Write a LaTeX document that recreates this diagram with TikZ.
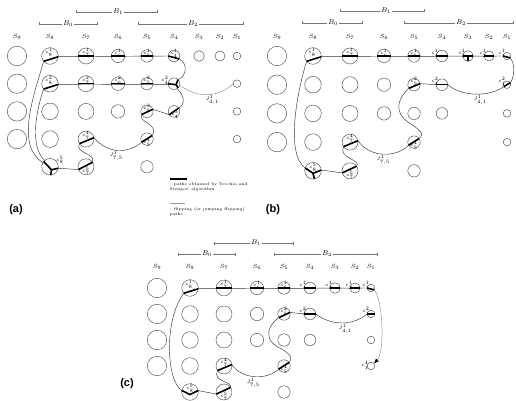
\documentclass[tikz,border=0pt]{standalone}
\usepackage{fontspec}
\newfontfamily\labfont{Liberation Sans}
\usetikzlibrary{arrows.meta}
\tikzset{
 cell/.style={circle,draw=black!70,line width=0.45pt,inner sep=0,outer sep=0},
 slab/.style={font=\fontsize{6}{7}\selectfont,inner sep=0},
 blab/.style={font=\fontsize{7.5}{9}\selectfont,fill=white,inner sep=1pt},
 brk/.style={draw=black!55,line width=0.4pt,{Bar[width=3pt]}-{Bar[width=3pt]}},
 heavy/.style={line width=1.6pt,black},
 thinp/.style={line width=0.45pt,black!80},
 flip/.style={line width=0.5pt,black!40},
 clab/.style={font=\fontsize{4.2}{4.6}\selectfont,inner sep=0},
 jlab/.style={font=\fontsize{4.8}{5}\selectfont,inner sep=0},
 plab/.style={font=\labfont\bfseries\fontsize{11}{13}\selectfont,inner sep=0},
 legt/.style={font=\fontsize{4}{4.8}\selectfont,align=left,inner sep=0,anchor=north west},
}
\newcommand\panelgrid[5]{%
 \foreach \cc/\x in {#2}{%
  \pgfmathtruncatemacro\ix{9-\cc}%
  \pgfmathsetmacro\rr{{9.7,8.3,8,6.7,6.2,5.8,5.3,5,3.8}[\ix]}%
  \pgfmathtruncatemacro\nr{{4,5,5,3,5,3,1,1,4}[\ix]}%
  \node[slab] (#1s\cc) at (\x,-#5) {$S_{\cc}$};%
  \foreach \rw in {1,...,\nr}{%
   \node[cell,minimum size={2*\rr*1pt}] (#1\cc\rw) at ({\x},{-(#3+(\rw-1)*#4)}) {};%
  }%
 }}
\newcommand\bracketB[6]{%
 \coordinate (#1l) at (#2,-#4); \coordinate (#1r) at (#3,-#4);
 \draw[brk] (#1l) -- (#1r);
 \node[blab] (#1t) at (#5,-#4) {#6};}
\newcommand\clab[4]{\node[clab] (l#1) at ([xshift=#2pt,yshift=#3pt]#1.center) {#4};}
\begin{document}
\begin{tikzpicture}[x=1pt,y=1pt]
\fill[white] (0,0) rectangle (516,-401);
\path[use as bounding box] (0,0) rectangle (516,-401);

% ---------------- grids
\panelgrid{a}{9/17,8/50,7/86,6/118,5/147,4/174,3/199,2/220,1/237}{56}{27.7}{37}
\panelgrid{b}{9/277,8/313,7/350,6/384,5/414,4/442,3/468,2/489,1/507}{56}{28.7}{37}
\panelgrid{c}{9/157,8/190,7/224,6/257,5/284,4/310,3/335,2/355,1/371}{288}{26}{267}

% ---------------- brackets
\bracketB{aB1}{76}{157}{12}{118}{$B_1$}
\bracketB{aB0}{39}{97}{24}{68}{$B_0$}
\bracketB{aB2}{138}{243}{24}{193}{$B_2$}
\bracketB{bB1}{340}{424}{11}{386}{$B_1$}
\bracketB{bB0}{302}{362}{23}{333}{$B_0$}
\bracketB{bB2}{404}{513}{23}{461}{$B_2$}
\bracketB{cB1}{214}{293}{243}{256}{$B_1$}
\bracketB{cB0}{178}{235}{254}{207}{$B_0$}
\bracketB{cB2}{274}{377}{254}{327}{$B_2$}

% ---------------- panel (a)
\draw[thinp] (a81.355) -- (a41.180);
\draw[heavy] (a81.220) -- (a81.355);
\foreach \nd in {a71,a61,a51,a72,a62,a52} \draw[heavy] (\nd.west) -- (\nd.east);
\draw[heavy] (a41.180) -- (a41.330);
\draw[thinp] (a41.330) .. controls (188,-63) and (187,-76) .. (a42.45);
\coordinate (a42j) at ([xshift=2pt,yshift=-1pt]a42.center);
\draw[thinp] (a82.355) -- (a42j);
\draw[heavy] (a82.220) -- (a82.355);
\draw[heavy] (a42.180) -- (a42j) -- (a42.45);
\draw[heavy] (a42j) -- (a42.315);
\draw[flip] (a42.345) .. controls (200,-100) and (220,-96) .. (a12.180);
\node[jlab] (aJ41) at (212,-100) {$J^1_{4,1}$};
\draw[thinp] (a42.300) .. controls (184,-95) and (186,-104) .. (a43.35);
\draw[thinp] (a43.215) -- (a53.20);
\draw[heavy] (a43.215) -- (a43.35);
\draw[heavy] (a53.210) -- (a53.20);
\draw[thinp] (a53.210) .. controls (137,-122) and (160,-124) .. (a54.35);
\draw[heavy] (a54.210) -- (a54.35);
\draw[thinp] (a54.210) .. controls (128,-154) and (108,-154) .. (a74.10);
\node[jlab] (aJ75) at (116,-156) {$J^1_{7,5}$};
\draw[heavy] (a74.215) -- (a74.10);
\draw[thinp] (a74.215) .. controls (74,-153) and (96,-153) .. (a75.35);
\draw[heavy] (a75.200) -- (a75.35);
\draw[thinp] (a75.200) -- (a85.350);
\coordinate (a85j) at ([xshift=1.5pt,yshift=-3pt]a85.center);
\draw[heavy] (a85.140) -- (a85j) -- (a85.350);
\draw[heavy] (a85j) -- (a85.275);
\draw[thinp] (a81.220) .. controls (34,-95) and (15,-145) .. (a85.150);
\draw[thinp] (a82.220) .. controls (38,-105) and (28,-145) .. (a85.130);

\clab{a81}{-1}{3.5}{$c^1_8$}
\clab{a71}{0}{3.5}{$c^1_7$}
\clab{a61}{0}{3}{$c^1_6$}
\clab{a51}{0}{3}{$c^1_5$}
\clab{a41}{0}{2.8}{$c^1_4$}
\clab{a82}{-1}{3.5}{$c^2_8$}
\clab{a72}{0}{3.5}{$c^2_7$}
\clab{a62}{0}{3}{$c^2_6$}
\clab{a52}{0}{3}{$c^2_5$}
\clab{a42}{-9}{3}{$c^2_4$}
\clab{a53}{0}{3}{$c^3_5$}
\clab{a43}{1}{-3}{$c^3_4$}
\clab{a74}{0}{3.5}{$c^4_7$}
\clab{a54}{0}{-3}{$c^4_5$}
\clab{a85}{10}{7}{$c^5_8$}
\clab{a75}{0}{-4}{$c^5_7$}

% legend
\coordinate (lgHa) at (170,-179); \coordinate (lgHb) at (187,-179);
\draw[heavy] (lgHa) -- (lgHb);
\node[legt] (lgT1) at (169.5,-183) {: paths obtained by Vecchia and\\ Stengos' algorithm};
\coordinate (lgFa) at (170,-203); \coordinate (lgFb) at (185,-203);
\draw[flip] (lgFa) -- (lgFb);
\node[legt] (lgT2) at (169.5,-207) {: flipping (or jumping flipping)\\ paths};

% ---------------- panel (b)
\draw[thinp] (b81.355) -- (b11.180);
\draw[heavy] (b81.220) -- (b81.355);
\foreach \nd in {b71,b61,b51,b41,b31,b21,b42} \draw[heavy] (\nd.west) -- (\nd.east);
\draw[heavy] (b31.center) -- (b31.270);
\draw[heavy] (b11.180) -- (b11.330);
\draw[thinp] (b11.330) .. controls (515,-64) and (515,-76) .. (b12.30);
\draw[heavy] (b12.210) -- (b12.30);
\draw[thinp] (b12.210) .. controls (490,-97) and (462,-97) .. (b42.0);
\node[jlab] (bJ41) at (480,-100) {$J^1_{4,1}$};
\draw[heavy] (b52.215) -- (b52.10);
\draw[thinp] (b52.10) -- (b42.180);
\draw[thinp] (b52.215) .. controls (396,-100) and (395,-113) .. (408,-122) .. controls (420,-130) and (425,-134) .. (b54.35);
\draw[heavy] (b54.210) -- (b54.35);
\draw[thinp] (b54.210) .. controls (396,-158) and (370,-158) .. (b74.10);
\node[jlab] (bJ75) at (383,-160) {$J^1_{7,5}$};
\draw[heavy] (b74.215) -- (b74.10);
\draw[thinp] (b74.215) .. controls (338,-158) and (362,-160) .. (b75.35);
\draw[heavy] (b75.195) -- (b75.35);
\draw[thinp] (b75.195) -- (b85.5);
\coordinate (b85j) at ([yshift=-2.5pt]b85.center);
\draw[heavy] (b85.160) -- (b85j) -- (b85.5);
\draw[heavy] (b85j) -- (b85.280);
\draw[thinp] (b85.160) .. controls (286,-155) and (296,-95) .. (b81.220);

\clab{b81}{-1}{3.5}{$c^1_8$}
\clab{b71}{0}{3.5}{$c^1_7$}
\clab{b61}{0}{3}{$c^1_6$}
\clab{b51}{0}{3}{$c^1_5$}
\clab{b41}{-7}{3}{$c^1_4$}
\clab{b31}{-6}{3}{$c^1_3$}
\clab{b21}{-6}{3}{$c^1_2$}
\clab{b11}{-5}{3}{$c^1_1$}
\clab{b52}{0}{3}{$c^2_5$}
\clab{b42}{-7}{3}{$c^2_4$}
\clab{b12}{-5}{3}{$c^2_1$}
\clab{b74}{0}{3.5}{$c^4_7$}
\clab{b54}{0}{-3}{$c^4_5$}
\clab{b85}{0}{3.5}{$c^5_8$}
\clab{b75}{0}{-4}{$c^5_7$}

% ---------------- panel (c)
\draw[thinp] (c81.355) -- (c11.180);
\draw[heavy] (c81.220) -- (c81.355);
\foreach \nd in {c71,c61,c51,c41,c31,c21,c42,c12} \draw[heavy] (\nd.west) -- (\nd.east);
\draw[heavy] (c11.180) -- (c11.330);
\draw[flip,-{Latex[length=5pt,width=4pt,color=black]}] (c11.330) .. controls (383,-300) and (385,-352) .. (c14.40);
\draw[thinp] (c12.180) .. controls (352,-326) and (332,-326) .. (c42.0);
\node[jlab] (cJ41) at (345,-329) {$J^1_{4,1}$};
\draw[heavy] (c52.215) -- (c52.15);
\draw[thinp] (c52.15) -- (c42.180);
\draw[thinp] (c52.215) .. controls (268,-325) and (264,-338) .. (276,-346) .. controls (288,-352) and (294,-357) .. (c54.35);
\draw[heavy] (c54.210) -- (c54.35);
\draw[thinp] (c54.210) .. controls (268,-380) and (242,-380) .. (c74.10);
\node[jlab] (cJ75) at (253,-383) {$J^1_{7,5}$};
\draw[heavy] (c74.215) -- (c74.10);
\draw[thinp] (c74.215) .. controls (212,-382) and (234,-382) .. (c75.35);
\draw[heavy] (c75.195) -- (c75.35);
\draw[thinp] (c75.195) -- (c85.10);
\coordinate (c85j) at ([yshift=-2.5pt]c85.center);
\draw[heavy] (c85.170) -- (c85j) -- (c85.10);
\draw[thinp] (c85.170) .. controls (166,-380) and (164,-320) .. (c81.220);

\clab{c81}{-1}{3.5}{$c^1_8$}
\clab{c71}{0}{3.5}{$c^1_7$}
\clab{c61}{0}{3}{$c^1_6$}
\clab{c51}{0}{3}{$c^1_5$}
\clab{c41}{-7}{3}{$c^1_4$}
\clab{c31}{-6}{3}{$c^1_3$}
\clab{c21}{-6}{3}{$c^1_2$}
\clab{c11}{-5}{3}{$c^1_1$}
\clab{c52}{0}{3}{$c^2_5$}
\clab{c42}{-7}{3}{$c^2_4$}
\clab{c12}{-5}{3}{$c^2_1$}
\clab{c74}{0}{3.5}{$c^4_7$}
\clab{c54}{0}{-3}{$c^4_5$}
\clab{c14}{-6}{1}{$c^4_1$}
\clab{c85}{0}{3.5}{$c^5_8$}
\clab{c75}{0}{-4}{$c^5_7$}

% ---------------- panel labels
\node[plab] (pa) at (16,-210) {(a)};
\node[plab] (pb) at (273,-210) {(b)};
\node[plab] (pc) at (127,-384) {(c)};
\end{tikzpicture}
\end{document}
